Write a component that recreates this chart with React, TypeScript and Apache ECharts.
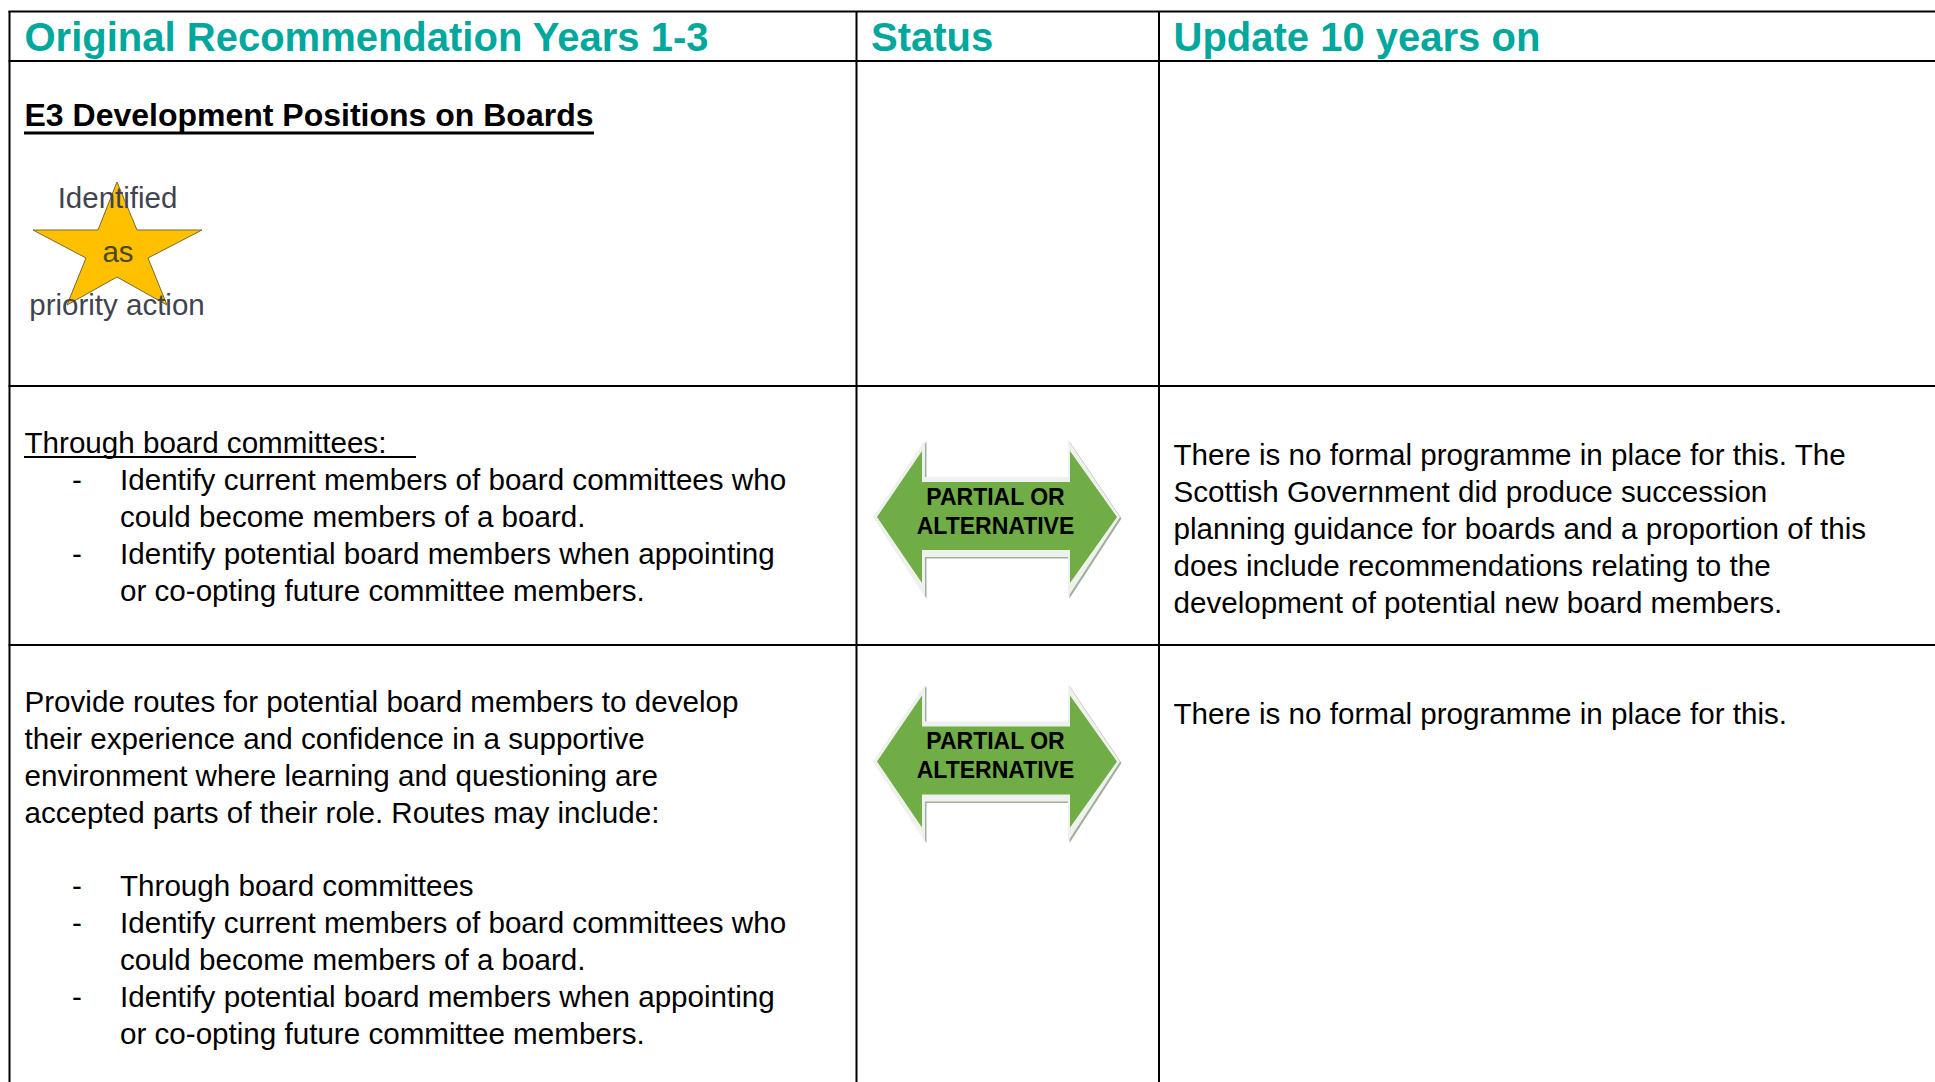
import React, { useEffect, useRef } from "react";
import * as echarts from "echarts";

const W = 1935;
const H = 1082;

const headers = ["Original Recommendation Years 1-3", "Status", "Update 10 years on"];
const sectionTitle = "E3 Development Positions on Boards";
const starLines = ["Identified", "as", "priority action"];
const statusLines = ["PARTIAL OR", "ALTERNATIVE"];
const row2Lead = "Through board committees:";
const row2Bullets = [
  ["Identify current members of board committees who", "could become members of a board."],
  ["Identify potential board members when appointing", "or co-opting future committee members."],
];
const row2Update = [
  "There is no formal programme in place for this. The",
  "Scottish Government did produce succession",
  "planning guidance for boards and a proportion of this",
  "does include recommendations relating to the",
  "development of potential new board members.",
];
const row3Lead = [
  "Provide routes for potential board members to develop",
  "their experience and confidence in a supportive",
  "environment where learning and questioning are",
  "accepted parts of their role. Routes may include:",
];
const row3Bullets = [
  ["Through board committees"],
  ["Identify current members of board committees who", "could become members of a board."],
  ["Identify potential board members when appointing", "or co-opting future committee members."],
];
const row3Update = ["There is no formal programme in place for this."];

const FONT = "'Liberation Sans', Arial, sans-serif";
const BODY = 29.6;
const LEAD = 37;
const TEAL = "#00A79D";

function txt(s: string, x: number, base: number, size: number, extra: any = {}) {
  return {
    type: "text",
    x,
    y: base - size * 0.36,
    z: 10,
    silent: true,
    style: {
      text: s,
      fontFamily: FONT,
      fontSize: size,
      fill: "#000",
      verticalAlign: "middle",
      align: "left",
      ...extra,
    },
  };
}

function rule(x1: number, y1: number, x2: number, y2: number, w = 2) {
  return {
    type: "line",
    z: 5,
    silent: true,
    shape: { x1, y1, x2, y2 },
    style: { stroke: "#000", lineWidth: w },
  };
}

function arrow(dy: number) {
  const outer = [
    [873, 517], [925, 440], [925, 477], [1068, 477], [1068, 440], [1120, 517],
    [1068, 597], [1068, 557], [925, 557], [925, 597],
  ];
  const inner = [
    [877, 517], [922, 451], [922, 482], [1070, 482], [1070, 451], [1117, 517],
    [1070, 583], [1070, 550], [922, 550], [922, 583],
  ];
  const at = (p: number[][], ox = 0, oy = 0) => p.map(([x, y]) => [x + ox, y + dy + oy]);
  return [
    { type: "polygon", z: 2, silent: true, shape: { points: at(outer, 1.5, 1.5) }, style: { fill: "#a2b09a" } },
    { type: "polygon", z: 3, silent: true, shape: { points: at(outer) }, style: { fill: "#eff1ee" } },
    { type: "polygon", z: 4, silent: true, shape: { points: at(inner) }, style: { fill: "#70AD47" } },
    txt(statusLines[0], 995.5, 505 + dy, 23, { align: "center", fontWeight: "bold", fontFamily: "'Liberation Sans Narrow', " + FONT }),
    txt(statusLines[1], 995.5, 534 + dy, 23, { align: "center", fontWeight: "bold", fontFamily: "'Liberation Sans Narrow', " + FONT }),
  ];
}

function bullets(groups: string[][], start: number) {
  const out: any[] = [];
  let y = start;
  groups.forEach((g) => {
    out.push(txt("-", 72, y, BODY));
    g.forEach((l) => {
      out.push(txt(l, 120, y, BODY));
      y += LEAD;
    });
  });
  return out;
}

function buildGraphic() {
  const els: any[] = [];
  const cols = [9.5, 856.5, 1159];
  cols.forEach((x) => els.push(rule(x, 11, x, H)));
  [11.5, 61, 386, 645].forEach((y) => els.push(rule(8.5, y, W, y)));

  const headX = [24.5, 871, 1173.5];
  headers.forEach((h, i) => els.push(txt(h, headX[i], 51, 40, { fill: TEAL, fontWeight: "bold" })));

  els.push(txt(sectionTitle, 24.5, 127, 32, { fontWeight: "bold" }));
  els.push(rule(24, 133, 594, 133, 3));

  els.push({
    type: "polygon",
    z: 3,
    silent: true,
    shape: {
      points: [
        [117, 182], [137, 230], [202, 230], [148, 258], [167, 305],
        [117, 277], [67, 305], [86, 258], [33, 230], [98, 230],
      ],
    },
    style: { fill: "#FFC000", stroke: "#7a6a2a", lineWidth: 1 },
  });
  const starStyle = { fill: "#3f4450", align: "center" };
  els.push(txt(starLines[0], 117.5, 208, 29.5, starStyle));
  els.push(txt(starLines[1], 118, 262, 29.5, { ...starStyle, fill: "#4a4a20" }));
  els.push(txt(starLines[2], 117, 315, 29.5, starStyle));

  els.push(txt(row2Lead, 24.5, 453, BODY));
  els.push(rule(24, 457, 416, 457, 2));
  els.push(...bullets(row2Bullets, 490));
  row2Update.forEach((l, i) => els.push(txt(l, 1173.5, 465 + i * LEAD, BODY)));
  els.push(...arrow(0));

  row3Lead.forEach((l, i) => els.push(txt(l, 24.5, 712 + i * LEAD, BODY)));
  els.push(...bullets(row3Bullets, 896));
  row3Update.forEach((l, i) => els.push(txt(l, 1173.5, 724 + i * LEAD, BODY)));
  els.push(...arrow(244.5));
  return els;
}

export default function App() {
  const ref = useRef<HTMLDivElement>(null);
  useEffect(() => {
    document.body.style.margin = "0";
    const chart = echarts.init(ref.current!, null, { renderer: "svg" });
    chart.setOption({ animation: false, backgroundColor: "#fff", graphic: { elements: buildGraphic() } });
    return () => chart.dispose();
  }, []);
  return <div ref={ref} style={{ width: W, height: H, overflow: "hidden" }} />;
}
